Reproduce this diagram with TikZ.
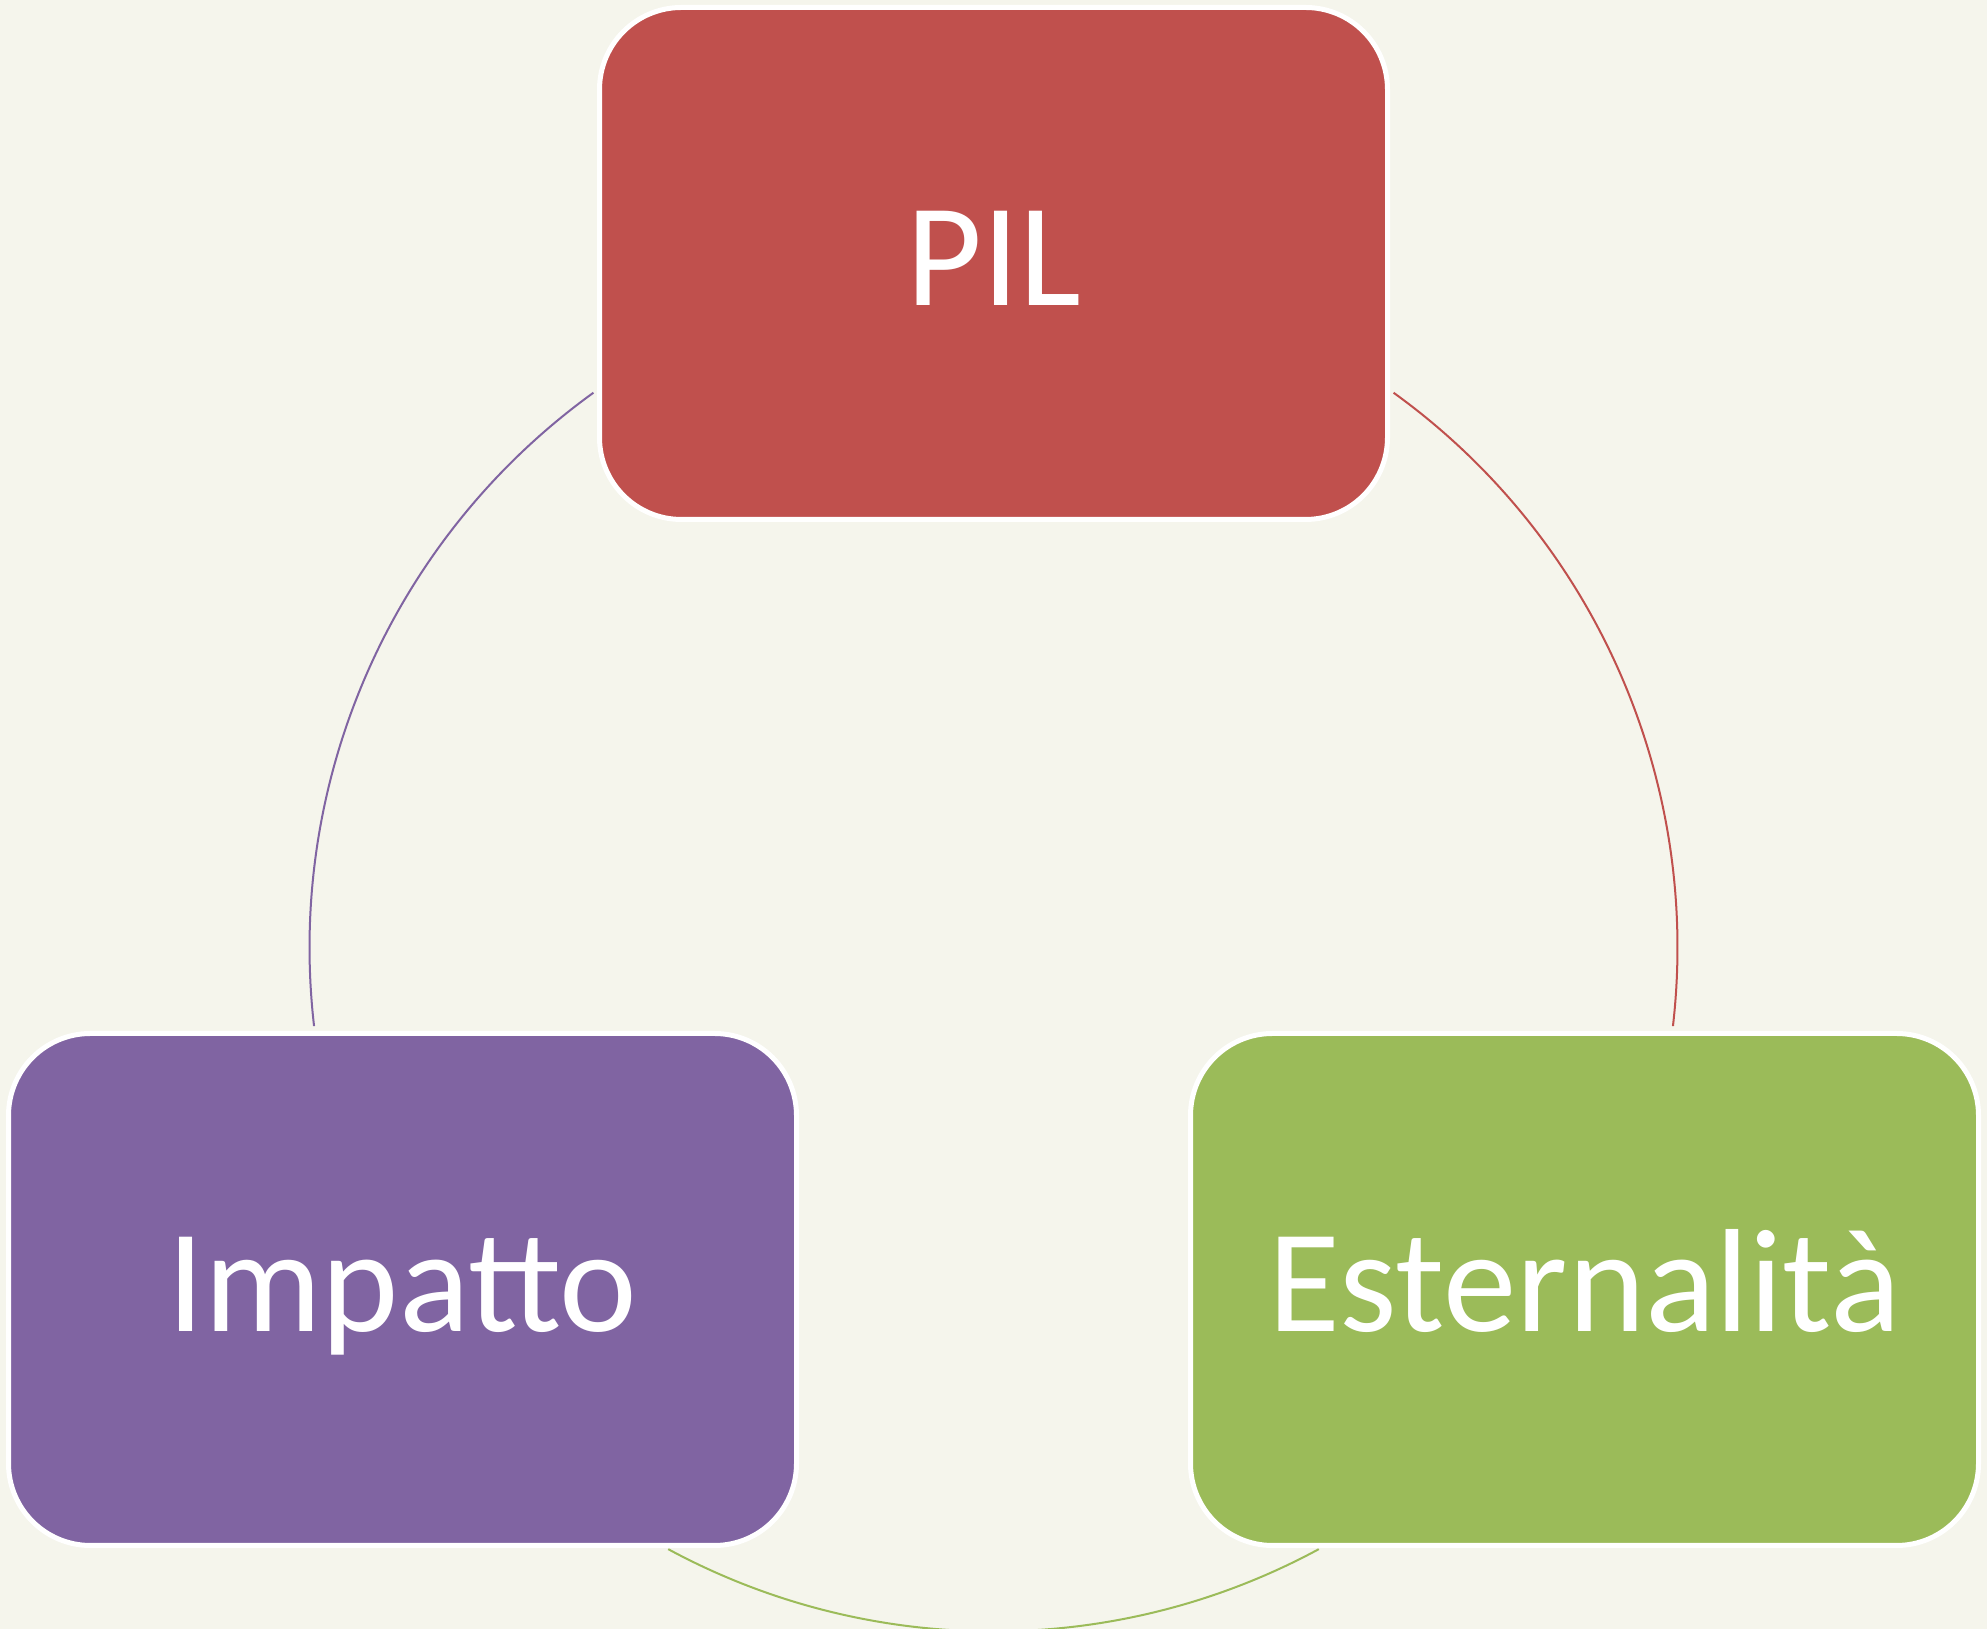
\documentclass[tikz,border=0pt]{standalone}
\usepackage{fontspec}
\setmainfont{Carlito}
\usetikzlibrary{calc}
\definecolor{bg}{HTML}{F5F5EC}
\definecolor{pilred}{HTML}{C0504D}
\definecolor{impurple}{HTML}{8064A2}
\definecolor{estgreen}{HTML}{9BBB59}
\begin{document}
\begin{tikzpicture}[x=1pt,y=1pt,
  cyclebox/.style={draw=white, line width=5pt, rounded corners=82pt,
    minimum width=788pt, minimum height=512pt, inner sep=0pt,
    text=white, font=\fontsize{147}{160}\selectfont,
    text height=84pt, text depth=0pt},
  cyclearc/.style={line width=2pt}]
  % page background
  \fill[bg] (0,0) rectangle (1987,1629);
  \useasboundingbox (0,0) rectangle (1987,1629);

  % centre of the cycle
  \coordinate (c) at (993.5,681.5);

  % connecting arcs
  \draw[cyclearc, impurple] ($(c)+(125.8:684)$) arc[start angle=125.8, end angle=186.6, radius=684];
  \draw[cyclearc, pilred]   ($(c)+(54.2:684)$)  arc[start angle=54.2, end angle=-6.6, radius=684];
  \draw[cyclearc, estgreen] ($(c)+(241.6:684)$) arc[start angle=241.6, end angle=298.4, radius=684];

  % the three stages
  \node[cyclebox, fill=pilred]   (pil) at (993.5,1365.5) {PIL};
  \node[cyclebox, fill=impurple] (imp) at (402.5,339.5)  {Impatto};
  \node[cyclebox, fill=estgreen] (est) at (1584.5,339.5) {Esternalità};
\end{tikzpicture}
\end{document}
